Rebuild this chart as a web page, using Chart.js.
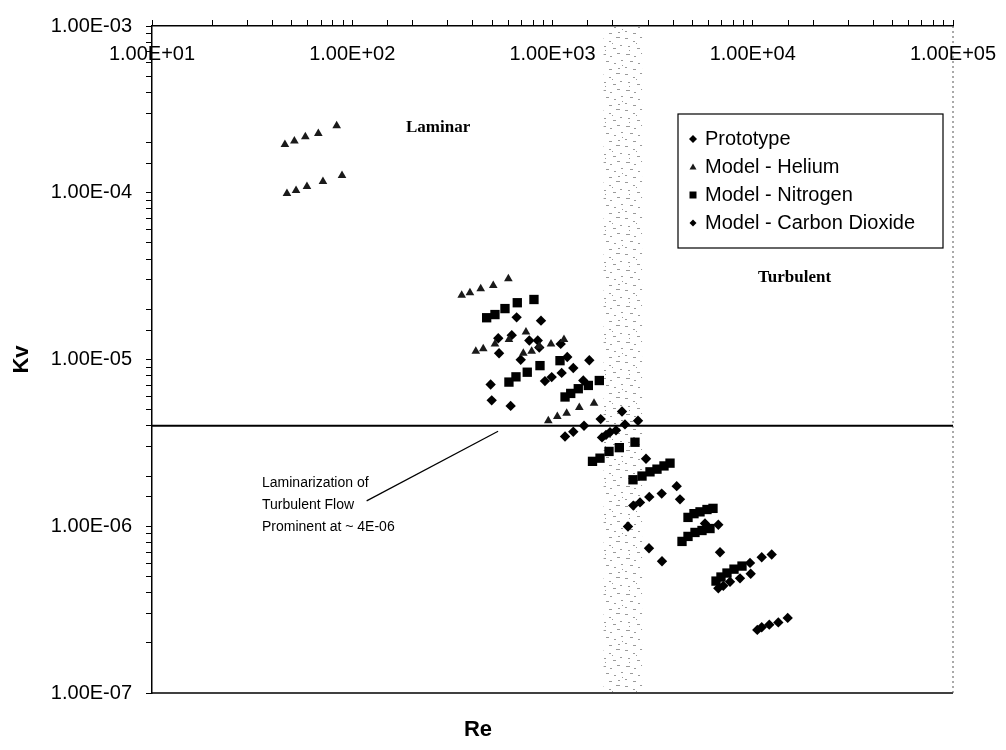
<!DOCTYPE html>
<html><head><meta charset="utf-8">
<script src="https://cdn.jsdelivr.net/npm/chart.js@4"></script>
<style>html,body{margin:0;padding:0;background:#fff}canvas{display:block}</style>
</head><body>
<canvas id="c" width="1006" height="750"></canvas>
<script>
// ---- tick labels ----
const xTickValues = [1e1, 1e2, 1e3, 1e4, 1e5];
const xTickLabels = ['1.00E+01', '1.00E+02', '1.00E+03', '1.00E+04', '1.00E+05'];
const yTickValues = [1e-3, 1e-4, 1e-5, 1e-6, 1e-7];
const yTickLabels = ['1.00E-03', '1.00E-04', '1.00E-05', '1.00E-06', '1.00E-07'];

// ---- series (Re, Kv) ----
const protoRe = [1767,1850,1937,2076,2301,2673,1740,2224,2931,2532,2735,3043,3510,4171,4332,2382,5774,6730,3033,3522,6864,6730,7129,7699,8637,9767,9690,11087,12432,10537,11087,12093,13417,14947];
const protoKv = [3.41e-6,3.53e-6,3.66e-6,3.76e-6,4.08e-6,4.29e-6,4.39e-6,4.88e-6,2.54e-6,1.33e-6,1.39e-6,1.50e-6,1.57e-6,1.74e-6,1.45e-6,9.97e-7,1.04e-6,1.02e-6,7.38e-7,6.17e-7,6.98e-7,4.25e-7,4.39e-7,4.65e-7,4.87e-7,5.19e-7,6.03e-7,6.52e-7,6.77e-7,2.39e-7,2.48e-7,2.57e-7,2.65e-7,2.82e-7];

const heliumRe = [46.1,51.4,58.3,67.7,83.6, 47.2,52.4,59.4,71.4,88.9, 352,387,438,506,602, 414,451,516,606,737, 715,787,859,983,1141, 953,1057,1177,1361,1612];
const heliumKv = [1.95e-4,2.04e-4,2.17e-4,2.27e-4,2.52e-4, 9.9e-5,1.03e-4,1.09e-4,1.17e-4,1.27e-4, 2.43e-5,2.51e-5,2.66e-5,2.78e-5,3.05e-5, 1.12e-5,1.16e-5,1.24e-5,1.32e-5,1.46e-5, 1.09e-5,1.12e-5,1.20e-5,1.24e-5,1.32e-5, 4.29e-6,4.55e-6,4.76e-6,5.15e-6,5.46e-6];

const nitrogenRe = [469,516,579,667,808, 606,657,748,866,1090, 1155,1233,1345,1510,1713, 1584,1727,1915,2156,2582, 2523,2799,3068,3325,3604,3862, 4750,5088,5453,5908,6331, 4433,4750,5147,5580,6117, 6555,6940,7436,8061,8838];
const nitrogenKv = [1.78e-5,1.86e-5,2.02e-5,2.19e-5,2.29e-5, 7.32e-6,7.87e-6,8.39e-6,9.19e-6,9.84e-6, 5.96e-6,6.26e-6,6.68e-6,6.99e-6,7.48e-6, 2.45e-6,2.56e-6,2.81e-6,2.96e-6,3.19e-6, 1.90e-6,2.00e-6,2.12e-6,2.20e-6,2.30e-6,2.39e-6, 1.13e-6,1.19e-6,1.22e-6,1.26e-6,1.28e-6, 8.11e-7,8.69e-7,9.18e-7,9.43e-7,9.69e-7, 4.69e-7,4.96e-7,5.24e-7,5.53e-7,5.77e-7];

const co2Re = [662,876,536,626,766,844,859,1099,541,694,1185,1527,1270,1111,917,991,1425,491,497,618,1155,1270,1437];
const co2Kv = [1.79e-5,1.71e-5,1.34e-5,1.40e-5,1.30e-5,1.30e-5,1.18e-5,1.24e-5,1.09e-5,9.97e-6,1.035e-5,9.89e-6,8.90e-6,8.31e-6,7.42e-6,7.84e-6,7.48e-6,7.08e-6,5.69e-6,5.27e-6,3.45e-6,3.69e-6,4.01e-6];

// ---- reference line, leader line, transition band ----
const laminarLimitRe = [10, 1e5];
const laminarLimitKv = [4e-6, 4e-6];
const leaderRe = [118, 535];
const leaderKv = [1.42e-6, 3.71e-6];
const transitionRe = [1800, 2800];

const seriesNames = ['Prototype', 'Model - Helium', 'Model - Nitrogen', 'Model - Carbon Dioxide'];
const annotationLines = ['Laminarization of', 'Turbulent Flow', 'Prominent at ~ 4E-06'];

const pts = (xs, ys) => xs.map((x, i) => ({x: x, y: ys[i]}));
const SANS = "'Liberation Sans', Arial, sans-serif";
const SERIF = "'Liberation Serif', 'Times New Roman', serif";

// speckle pattern for the transition band (style only)
function makeSpeckle() {
  const c = document.createElement('canvas');
  c.width = 24; c.height = 36;
  const g = c.getContext('2d');
  g.fillStyle = '#9a9a9a';
  const marks = [[1,2,3],[9,5,2],[16,1,4],[4,10,2],[13,12,3],[20,9,2],[2,18,4],[10,20,2],[17,17,3],[6,25,3],[14,27,2],[21,24,2],[1,31,2],[9,33,3],[18,32,2],[12,7,1],[5,14,1],[22,29,1]];
  marks.forEach(m => g.fillRect(m[0], m[1], m[2], 1));
  return c;
}

const drawPlugin = {
  id: 'extras',
  beforeDatasetsDraw(chart) {
    const {ctx, chartArea: a, scales: {x, y}} = chart;
    ctx.save();
    const pat = ctx.createPattern(makeSpeckle(), 'repeat');
    const bx0 = x.getPixelForValue(transitionRe[0]);
    const bx1 = x.getPixelForValue(transitionRe[1]);
    ctx.fillStyle = pat;
    ctx.fillRect(bx0, a.top, bx1 - bx0, a.bottom - a.top);
    ctx.strokeStyle = '#000'; ctx.lineWidth = 1.5;
    ctx.beginPath(); ctx.moveTo(a.left, a.bottom); ctx.lineTo(a.right, a.bottom); ctx.stroke();
    ctx.strokeStyle = '#555'; ctx.lineWidth = 1; ctx.setLineDash([2, 3]);
    ctx.beginPath(); ctx.moveTo(a.right, a.top); ctx.lineTo(a.right, a.bottom); ctx.stroke();
    ctx.setLineDash([]);
    ctx.fillStyle = '#000';
    ctx.font = '20px ' + SANS;
    ctx.textAlign = 'center'; ctx.textBaseline = 'middle';
    xTickValues.forEach((v, i) => ctx.fillText(xTickLabels[i], x.getPixelForValue(v), a.top + 28));
    ctx.font = 'bold 17px ' + SERIF;
    ctx.textAlign = 'left';
    ctx.fillText('Laminar', 406, 128);
    ctx.fillText('Turbulent', 758, 278);
    ctx.font = '14px ' + SANS;
    annotationLines.forEach((t, i) => ctx.fillText(t, 262, 483 + i * 22));
    ctx.font = 'bold 22px ' + SANS;
    ctx.textAlign = 'center';
    ctx.fillText('Re', 478, 730);
    ctx.save();
    ctx.translate(22, (a.top + a.bottom) / 2);
    ctx.rotate(-Math.PI / 2);
    ctx.fillText('Kv', 0, 0);
    ctx.restore();
    ctx.restore();
  },
  afterDraw(chart) {
    const ctx = chart.ctx;
    ctx.save();
    const bx = 678, by = 114, bw = 265, bh = 134;
    ctx.fillStyle = '#fff';
    ctx.fillRect(bx, by, bw, bh);
    ctx.strokeStyle = '#000'; ctx.lineWidth = 1.2;
    ctx.strokeRect(bx, by, bw, bh);
    ctx.font = '20px ' + SANS;
    ctx.textAlign = 'left'; ctx.textBaseline = 'middle';
    chart.data.datasets.slice(0, 4).forEach((ds, i) => {
      const cy = by + 25 + i * 28;
      const cx = 693;
      ctx.fillStyle = ds.backgroundColor;
      ctx.beginPath();
      const st = ds.pointStyle;
      if (st === 'rectRot') {
        const r = i === 0 ? 4 : 3.5;
        ctx.moveTo(cx, cy - r); ctx.lineTo(cx + r, cy); ctx.lineTo(cx, cy + r); ctx.lineTo(cx - r, cy);
      } else if (st === 'triangle') {
        const r = 3.5;
        ctx.moveTo(cx, cy - r); ctx.lineTo(cx + r, cy + r * 0.7); ctx.lineTo(cx - r, cy + r * 0.7);
      } else {
        ctx.rect(cx - 3.5, cy - 3.5, 7, 7);
      }
      ctx.closePath(); ctx.fill();
      ctx.fillStyle = '#000';
      ctx.fillText(ds.label, 705, cy);
    });
    ctx.restore();
  }
};

const isPow10 = v => { const l = Math.log10(v); return Math.abs(l - Math.round(l)) < 1e-6; };

new Chart(document.getElementById('c'), {
  type: 'scatter',
  data: {
    datasets: [
      {label: seriesNames[0], data: pts(protoRe, protoKv), pointStyle: 'rectRot', pointRadius: 5.2, backgroundColor: '#000', borderColor: '#000', borderWidth: 0},
      {label: seriesNames[1], data: pts(heliumRe, heliumKv), pointStyle: 'triangle', pointRadius: 5, backgroundColor: '#1a1a1a', borderColor: '#1a1a1a', borderWidth: 0},
      {label: seriesNames[2], data: pts(nitrogenRe, nitrogenKv), pointStyle: 'rect', pointRadius: 6.6, backgroundColor: '#000', borderColor: '#000', borderWidth: 0},
      {label: seriesNames[3], data: pts(co2Re, co2Kv), pointStyle: 'rectRot', pointRadius: 5.2, backgroundColor: '#000', borderColor: '#000', borderWidth: 0},
      {label: 'limit', data: pts(laminarLimitRe, laminarLimitKv), showLine: true, pointRadius: 0, borderColor: '#000', borderWidth: 2},
      {label: 'leader', data: pts(leaderRe, leaderKv), showLine: true, pointRadius: 0, borderColor: '#000', borderWidth: 1.2}
    ]
  },
  options: {
    responsive: false,
    animation: false,
    layout: {padding: {left: 0, right: 53, top: 0, bottom: 57}},
    plugins: {legend: {display: false}, tooltip: {enabled: false}},
    scales: {
      x: {
        type: 'logarithmic', position: 'top', min: 10, max: 1e5,
        grid: {drawOnChartArea: false, drawTicks: true, tickLength: 6, color: '#000'},
        border: {display: true, color: '#000', width: 1.5},
        ticks: {display: false, autoSkip: false},
        afterFit(s) { s.height = 20; }
      },
      y: {
        type: 'logarithmic', position: 'left', min: 1e-7, max: 1e-3,
        grid: {drawOnChartArea: false, drawTicks: true, tickLength: 6, color: '#000'},
        border: {display: true, color: '#000', width: 1.5},
        ticks: {
          autoSkip: false, color: '#000', padding: 14,
          font: {family: SANS, size: 20},
          callback: v => { if (!isPow10(v)) return ''; const i = yTickValues.findIndex(t => Math.abs(Math.log10(t) - Math.log10(v)) < 1e-6); return i >= 0 ? yTickLabels[i] : ''; }
        },
        afterFit(s) { s.width = 152; }
      }
    }
  },
  plugins: [drawPlugin]
});
</script>
</body></html>
